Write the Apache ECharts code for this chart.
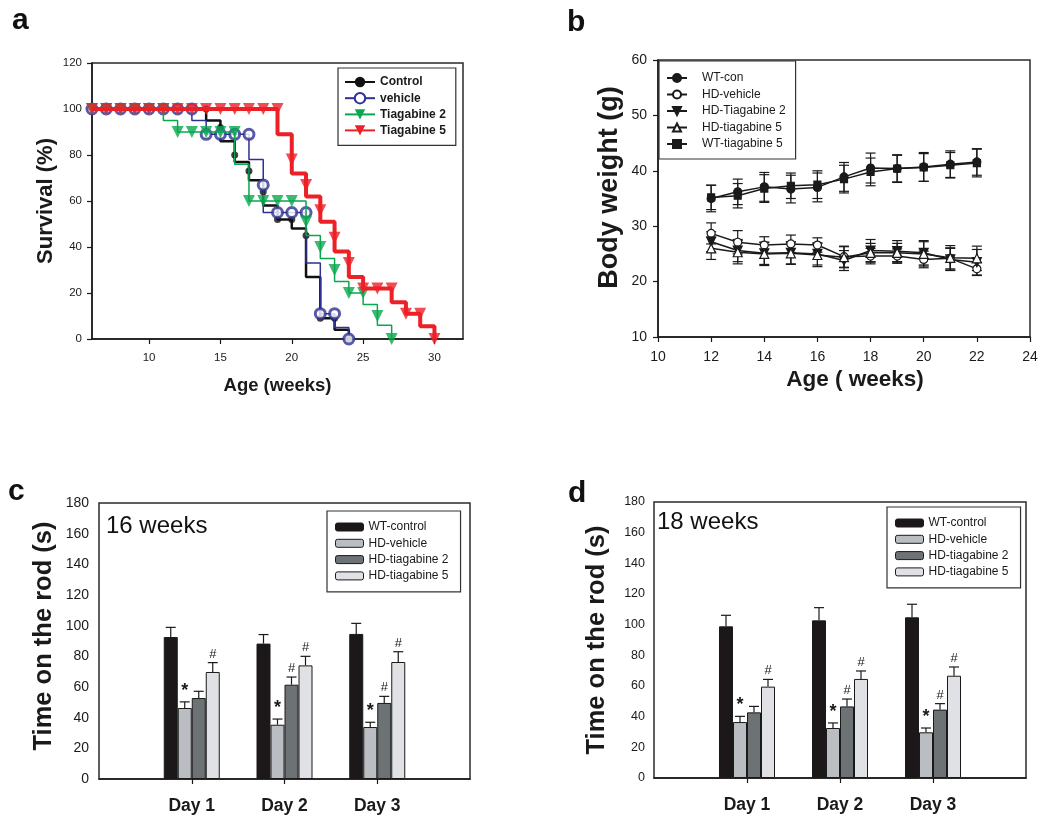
<!DOCTYPE html>
<html>
<head>
<meta charset="utf-8">
<script src="https://cdn.jsdelivr.net/npm/echarts@6/dist/echarts.min.js"></script>
<style>
  html, body { margin: 0; padding: 0; background: #fff; }
  #main { width: 1050px; height: 828px; }
</style>
</head>
<body>
<div id="main"></div>
<script>
// ---- panel a: survival (%) by week ----
var survWeeks = [6, 7, 8, 9, 10, 11, 12, 13, 14, 15, 16, 17, 18, 19, 20, 21, 22, 23, 24, 25, 26, 27, 28, 29, 30];
// level of each step curve after that week, and where the markers sit
var ctrlLine = [100, 100, 100, 100, 100, 100, 100, 100, 95, 86, 77, 69, 58, 52, 48, 27, 9, 4, 0];
var ctrlMark = [100, 100, 100, 100, 100, 100, 100, 100, 100, 92, 80, 73, 64, 52, 52, 45, 9, 9, 0];
var vehLine = [100, 100, 100, 100, 100, 100, 100, 95, 89, 89, 89, 78, 55, 55, 55, 33, 11, 5, 0];
var vehMark = [100, 100, 100, 100, 100, 100, 100, 100, 89, 89, 89, 89, 67, 55, 55, 55, 11, 11, 0];
var tia2Line = [100, 100, 100, 100, 100, 95, 90, 90, 90, 90, 76, 60, 60, 60, 60, 45, 35, 25, 20, 15, 6, 0];
var tia2Mark = [100, 100, 100, 100, 100, 100, 90, 90, 90, 90, 90, 60, 60, 60, 60, 51, 40, 30, 20, 20, 10, 0];
var tia5Line = [100, 100, 100, 100, 100, 100, 100, 100, 100, 100, 100, 100, 100, 89, 72, 62, 51, 38, 27, 22, 22, 16, 11, 5.5, 0];
var tia5Mark = [100, 100, 100, 100, 100, 100, 100, 100, 100, 100, 100, 100, 100, 100, 78, 67, 56, 44, 33, 22, 22, 22, 11, 11, 0];

// ---- panel b: body weight (g) ----
var bwWeeks = [12, 13, 14, 15, 16, 17, 18, 19, 20, 21, 22];
var wtCon = [35.0, 36.2, 37.1, 36.7, 37.0, 38.9, 40.5, 40.4, 40.7, 41.2, 41.6];
var wtConErr = [2.4, 2.3, 2.6, 2.5, 2.6, 2.6, 2.7, 2.5, 2.6, 2.4, 2.4];
var hdVeh = [28.7, 27.1, 26.6, 26.8, 26.6, 24.5, 24.6, 24.6, 24.0, 24.2, 22.3];
var hdVehErr = [1.9, 2.1, 1.5, 1.6, 1.3, 1.9, 1.4, 1.3, 1.5, 1.9, 1.2];
var hdTia2 = [27.2, 25.6, 25.1, 25.2, 25.0, 23.8, 25.6, 25.5, 25.2, 24.0, 23.5];
var hdTia2Err = [1.8, 2.0, 2.0, 2.0, 2.0, 1.8, 2.0, 1.9, 2.2, 2.0, 2.3];
var hdTia5 = [26.0, 25.3, 25.0, 25.1, 24.8, 24.4, 25.2, 25.2, 25.0, 24.3, 24.2];
var hdTia5Err = [2.0, 2.1, 2.1, 2.0, 2.1, 1.9, 1.7, 1.7, 2.2, 2.2, 2.2];
var wtTia5 = [35.2, 35.5, 36.8, 37.3, 37.5, 38.5, 39.8, 40.4, 40.6, 41.0, 41.4];
var wtTia5Err = [2.2, 2.2, 2.5, 2.3, 2.5, 2.5, 2.5, 2.4, 2.5, 2.3, 2.5];

// ---- panels c, d: time on the rod (s) ----
var days = ['Day 1', 'Day 2', 'Day 3'];
var rodGroups = ['WT-control', 'HD-vehicle', 'HD-tiagabine 2', 'HD-tiagabine 5'];
var w16Wt = [92.6, 88.3, 94.6],  w16WtErr = [6.3, 5.9, 6.9];
var w16Veh = [46.3, 35.4, 33.9], w16VehErr = [4.0, 3.7, 3.1];
var w16T2 = [52.8, 61.5, 49.6],  w16T2Err = [4.4, 5.0, 4.3];
var w16T5 = [69.8, 74.1, 76.3],  w16T5Err = [6.1, 5.9, 6.7];
var w18Wt = [98.9, 102.8, 104.8], w18WtErr = [7.2, 8.3, 8.5];
var w18Veh = [36.5, 32.6, 29.8],  w18VehErr = [3.7, 3.3, 2.8];
var w18T2 = [42.8, 46.7, 44.6],   w18T2Err = [3.9, 4.8, 3.9];
var w18T5 = [59.6, 64.6, 66.7],   w18T5Err = [4.7, 5.2, 5.7];
var vehSig = ['*', '*', '*'];
var t2Sig = ['', '#', '#'];
var t5Sig = ['#', '#', '#'];

var FONT = "'Liberation Sans', Arial, Helvetica, sans-serif";
var INK = '#1a1a1a';
var BAR_W = 14;
var ROD = 'rod:'; // internal prefix so bar legends don't pick up panel b's line series
var rodColors = ['#1c1819', '#babdc2', '#6d7375', '#e0e1e5'];

function pairs(xs, ys) {
  return ys.map(function (v, i) { return [xs[i], v]; });
}

function axisStyle(fs, margin, bold) {
  return {
    axisLine: { lineStyle: { color: INK, width: 1.5 } },
    axisTick: { length: 5, lineStyle: { color: INK, width: 1.2 } },
    axisLabel: { color: INK, fontSize: fs, fontFamily: FONT, margin: margin, fontWeight: bold ? 'bold' : 'normal' },
    splitLine: { show: false }
  };
}
function nameStyle(fs, extra) {
  return Object.assign({ color: INK, fontSize: fs, fontWeight: 'bold', fontFamily: FONT }, extra || {});
}

// panel a series
function survLine(name, vals, color, width, symbol, rot, itemStyle, z) {
  return {
    type: 'line', name: name, xAxisIndex: 0, yAxisIndex: 0, step: 'end',
    data: pairs(survWeeks, vals), showSymbol: false, symbol: symbol, symbolRotate: rot,
    lineStyle: { color: color, width: width }, itemStyle: itemStyle, z: z, clip: false
  };
}
function survMarks(name, vals, symbol, size, rot, itemStyle, z) {
  return {
    type: 'scatter', name: name, xAxisIndex: 0, yAxisIndex: 0,
    data: pairs(survWeeks, vals), symbol: symbol, symbolSize: size, symbolRotate: rot,
    itemStyle: itemStyle, z: z, clip: false
  };
}

// panel b series
function bwLine(name, vals, symbol, size, rot, fill) {
  return {
    type: 'line', name: name, xAxisIndex: 1, yAxisIndex: 1,
    data: pairs(bwWeeks, vals), symbol: symbol, symbolSize: size, symbolRotate: rot,
    lineStyle: { color: INK, width: 1.5 },
    itemStyle: { color: fill, borderColor: INK, borderWidth: 1.2 }, z: 3
  };
}
function bwErr(vals, errs) {
  return {
    type: 'custom', xAxisIndex: 1, yAxisIndex: 1, silent: true, z: 2,
    data: vals.map(function (v, i) { return [bwWeeks[i], v, errs[i]]; }),
    renderItem: function (params, api) {
      var lo = api.coord([api.value(0), api.value(1) - api.value(2)]);
      var hi = api.coord([api.value(0), api.value(1) + api.value(2)]);
      var st = { stroke: INK, lineWidth: 1.2 };
      return {
        type: 'group', children: [
          { type: 'line', shape: { x1: lo[0], y1: lo[1], x2: hi[0], y2: hi[1] }, style: st },
          { type: 'line', shape: { x1: lo[0] - 5, y1: lo[1], x2: lo[0] + 5, y2: lo[1] }, style: st },
          { type: 'line', shape: { x1: hi[0] - 5, y1: hi[1], x2: hi[0] + 5, y2: hi[1] }, style: st }
        ]
      };
    }
  };
}

// panels c, d series
function pad(vals) { return [null].concat(vals, [null]); }
function rodBar(axis, slot, vals) {
  return {
    type: 'bar', name: ROD + rodGroups[slot], xAxisIndex: axis, yAxisIndex: axis,
    data: pad(vals), barWidth: BAR_W, barGap: '0%',
    itemStyle: { color: rodColors[slot], borderColor: INK, borderWidth: 1 }, z: 2
  };
}
function rodErr(axis, slot, vals, errs, marks) {
  return {
    type: 'custom', xAxisIndex: axis, yAxisIndex: axis, silent: true, z: 4,
    data: vals.map(function (v, i) { return [i + 1, v, errs[i]]; }),
    renderItem: function (params, api) {
      var base = api.coord([api.value(0), api.value(1)]);
      var top = api.coord([api.value(0), api.value(1) + api.value(2)]);
      var x = base[0] + (slot - 1.5) * BAR_W;
      var st = { stroke: INK, lineWidth: 1.2 };
      var kids = [
        { type: 'line', shape: { x1: x, y1: base[1], x2: x, y2: top[1] }, style: st },
        { type: 'line', shape: { x1: x - 5, y1: top[1], x2: x + 5, y2: top[1] }, style: st }
      ];
      var m = marks ? marks[params.dataIndex] : '';
      if (m) {
        kids.push({
          type: 'text', x: x, y: top[1] - 2,
          style: {
            text: m, fill: INK, align: 'center', verticalAlign: 'bottom',
            font: m === '*' ? 'bold 18px ' + FONT : '13px ' + FONT
          }
        });
      }
      return { type: 'group', children: kids };
    }
  };
}

function rodAxisX(idx) {
  return Object.assign({
    type: 'category', gridIndex: idx, boundaryGap: false,
    data: [''].concat(days, [''])
  }, axisStyle(17.5, 18, true), {
    axisTick: { length: 5, lineStyle: { color: INK, width: 1.2 }, interval: function (i, v) { return v !== ''; } }
  });
}
function rodAxisY(idx, fs, margin, gap, shift) {
  return Object.assign({
    type: 'value', gridIndex: idx, min: 0, max: 180, interval: 20,
    name: 'Time on the rod (s)', nameLocation: 'middle', nameGap: gap,
    nameTextStyle: nameStyle(25.5, { padding: [0, 0, 0, shift] })
  }, axisStyle(fs, margin));
}
function rodLegend(left, top) {
  return {
    orient: 'vertical', left: left, top: top, selectedMode: false,
    data: rodGroups.map(function (g) { return ROD + g; }),
    formatter: function (name) { return name.replace(ROD, ''); },
    itemWidth: 28, itemHeight: 8, itemGap: 4.3, padding: [10, 12, 10, 8],
    itemStyle: { borderColor: INK, borderWidth: 1 },
    borderColor: '#333', borderWidth: 1.2, backgroundColor: '#fff',
    textStyle: { color: INK, fontSize: 12, fontFamily: FONT }
  };
}

var gridBox = { show: true, borderColor: '#2a2a2a', borderWidth: 1.5, backgroundColor: 'transparent' };

var option = {
  animation: false,
  textStyle: { fontFamily: FONT },
  grid: [
    Object.assign({ left: 92, top: 63, width: 371, height: 276 }, gridBox),
    Object.assign({ left: 658, top: 60, width: 372, height: 277 }, gridBox),
    Object.assign({ left: 99, top: 503, width: 371, height: 276 }, gridBox),
    Object.assign({ left: 654, top: 502, width: 372, height: 276 }, gridBox)
  ],
  xAxis: [
    Object.assign({
      type: 'value', gridIndex: 0, min: 6, max: 32,
      name: 'Age (weeks)', nameLocation: 'middle', nameGap: 37, nameTextStyle: nameStyle(18.5)
    }, axisStyle(11.5, 13), {
      axisTick: { length: 5, lineStyle: { color: INK, width: 1.2 }, customValues: [10, 15, 20, 25, 30] },
      axisLabel: { color: INK, fontSize: 11.5, fontFamily: FONT, margin: 13, customValues: [10, 15, 20, 25, 30] }
    }),
    Object.assign({
      type: 'value', gridIndex: 1, min: 10, max: 24, interval: 2,
      name: 'Age ( weeks)', nameLocation: 'middle', nameGap: 31,
      nameTextStyle: nameStyle(22.5, { padding: [0, 0, 0, 22] })
    }, axisStyle(14, 13)),
    rodAxisX(2),
    rodAxisX(3)
  ],
  yAxis: [
    Object.assign({
      type: 'value', gridIndex: 0, min: 0, max: 120, interval: 20,
      name: 'Survival (%)', nameLocation: 'middle', nameGap: 35, nameTextStyle: nameStyle(22)
    }, axisStyle(11.5, 10)),
    Object.assign({
      type: 'value', gridIndex: 1, min: 10, max: 60, interval: 10,
      name: 'Body weight (g)', nameLocation: 'middle', nameGap: 35,
      nameTextStyle: nameStyle(27, { padding: [0, 0, 0, 22] })
    }, axisStyle(14, 11)),
    rodAxisY(2, 14, 10, 42, 10),
    rodAxisY(3, 12.5, 9, 44, 0)
  ],
  legend: [
    {
      orient: 'vertical', left: 338, top: 68, selectedMode: false,
      data: ['Control', 'vehicle', 'Tiagabine 2', 'Tiagabine 5'],
      itemWidth: 30, itemHeight: 13, itemGap: 4, padding: [8, 10, 9, 6],
      borderColor: '#333', borderWidth: 1.2, backgroundColor: '#fff',
      textStyle: { color: INK, fontSize: 12, fontWeight: 'bold', fontFamily: FONT }
    },
    {
      orient: 'vertical', left: 659, top: 61, selectedMode: false,
      data: ['WT-con', 'HD-vehicle', 'HD-Tiagabine 2', 'HD-tiagabine 5', 'WT-tiagabine 5'],
      itemWidth: 20, itemHeight: 10, itemGap: 4.5, padding: [11, 10, 9, 7],
      borderColor: '#333', borderWidth: 1.2, backgroundColor: '#fff',
      textStyle: { color: INK, fontSize: 12, fontFamily: FONT, padding: [0, 0, 0, 10] }
    },
    rodLegend(327, 511),
    rodLegend(887, 507)
  ],
  graphic: [
    { type: 'text', left: 12, top: 6, style: { text: 'a', font: 'bold 30px ' + FONT, fill: '#111' } },
    { type: 'text', left: 567, top: 8, style: { text: 'b', font: 'bold 30px ' + FONT, fill: '#111' } },
    { type: 'text', left: 8, top: 477, style: { text: 'c', font: 'bold 30px ' + FONT, fill: '#111' } },
    { type: 'text', left: 568, top: 479, style: { text: 'd', font: 'bold 30px ' + FONT, fill: '#111' } },
    { type: 'text', left: 106, top: 514, style: { text: '16 weeks', font: '24px ' + FONT, fill: '#111' } },
    { type: 'text', left: 657, top: 510, style: { text: '18 weeks', font: '24px ' + FONT, fill: '#111' } }
  ],
  series: [
    // a
    survLine('Control', ctrlLine, '#111', 2.5, 'circle', 0, { color: '#111' }, 2),
    survMarks('Control', ctrlMark, 'circle', 7, 0, { color: '#111' }, 3),
    survLine('vehicle', vehLine, '#2e3192', 1.5, 'circle', 0, { color: '#fff', borderColor: '#2e3192', borderWidth: 3 }, 4),
    survMarks('vehicle', vehMark, 'circle', 10, 0, { color: '#fff', borderColor: '#2e3192', borderWidth: 3 }, 5),
    survLine('Tiagabine 2', tia2Line, '#09a84e', 1.5, 'triangle', 180, { color: '#09a84e' }, 6),
    survMarks('Tiagabine 2', tia2Mark, 'triangle', 12, 180, { color: '#09a84e' }, 7),
    survLine('Tiagabine 5', tia5Line, '#ec2027', 4, 'triangle', 180, { color: '#ec2027' }, 8),
    survMarks('Tiagabine 5', tia5Mark, 'triangle', 12, 180, { color: '#ec2027' }, 9),
    // b
    bwLine('WT-con', wtCon, 'circle', 8, 0, INK),
    bwLine('HD-vehicle', hdVeh, 'circle', 8, 0, '#fff'),
    bwLine('HD-Tiagabine 2', hdTia2, 'triangle', 9, 180, INK),
    bwLine('HD-tiagabine 5', hdTia5, 'triangle', 9, 0, '#fff'),
    bwLine('WT-tiagabine 5', wtTia5, 'rect', 7, 0, INK),
    bwErr(wtCon, wtConErr), bwErr(hdVeh, hdVehErr), bwErr(hdTia2, hdTia2Err),
    bwErr(hdTia5, hdTia5Err), bwErr(wtTia5, wtTia5Err),
    // c
    rodBar(2, 0, w16Wt), rodBar(2, 1, w16Veh), rodBar(2, 2, w16T2), rodBar(2, 3, w16T5),
    rodErr(2, 0, w16Wt, w16WtErr), rodErr(2, 1, w16Veh, w16VehErr, vehSig),
    rodErr(2, 2, w16T2, w16T2Err, t2Sig), rodErr(2, 3, w16T5, w16T5Err, t5Sig),
    // d
    rodBar(3, 0, w18Wt), rodBar(3, 1, w18Veh), rodBar(3, 2, w18T2), rodBar(3, 3, w18T5),
    rodErr(3, 0, w18Wt, w18WtErr), rodErr(3, 1, w18Veh, w18VehErr, vehSig),
    rodErr(3, 2, w18T2, w18T2Err, t2Sig), rodErr(3, 3, w18T5, w18T5Err, t5Sig)
  ]
};

var myChart = echarts.init(document.getElementById('main'));
myChart.setOption(option);
</script>
</body>
</html>
